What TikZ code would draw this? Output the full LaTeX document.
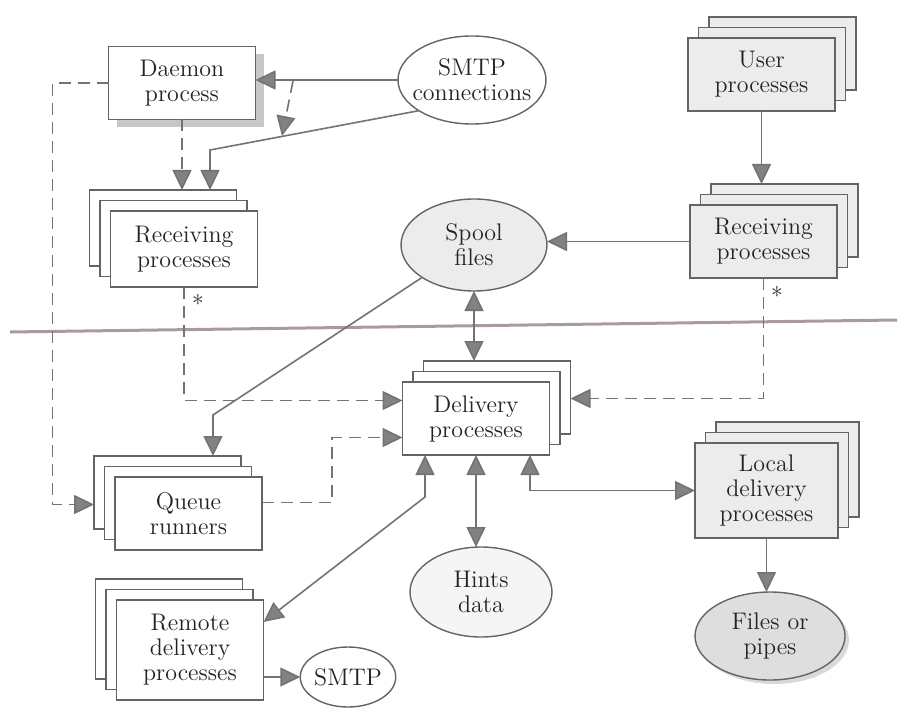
\documentclass[tikz,border=0pt]{standalone}
\usetikzlibrary{calc}
\usetikzlibrary{positioning}
\usetikzlibrary{arrows.meta}
\usetikzlibrary{shapes.geometric}
\usetikzlibrary{shadows}
\definecolor{boxline}{RGB}{100,100,100}
\definecolor{linec}{RGB}{115,115,115}
\definecolor{headc}{RGB}{130,130,130}
\definecolor{txt}{RGB}{35,35,35}
\definecolor{paleg}{RGB}{236,236,236}
\definecolor{midg}{RGB}{222,222,222}
\definecolor{rulec}{RGB}{170,155,155}

\begin{document}
\begin{tikzpicture}[x=0.5pt,y=-0.5pt,>={Triangle[length=10pt,width=9.5pt,fill=headc]}]
\tikzstyle{proc}=[rectangle,align=center,draw=boxline,fill=white,line width=0.7pt,inner sep=0pt,outer sep=0pt,minimum width=73.5pt,minimum height=36.5pt,text=txt,font=\rmfamily\fontsize{12}{12.5}\selectfont]
\tikzstyle{stackL}=[proc,copy shadow={shadow xshift=-10.5pt,shadow yshift=10.5pt,draw=boxline,fill=white,line width=0.7pt},copy shadow={shadow xshift=-5.25pt,shadow yshift=5.25pt,draw=boxline,fill=white,line width=0.7pt}]
\tikzstyle{stackR}=[proc,fill=paleg,copy shadow={shadow xshift=10.5pt,shadow yshift=10.5pt,draw=boxline,fill=paleg,line width=0.7pt},copy shadow={shadow xshift=5.25pt,shadow yshift=5.25pt,draw=boxline,fill=paleg,line width=0.7pt}]
\tikzstyle{store}=[ellipse,align=center,draw=boxline,fill=white,line width=0.7pt,inner sep=0pt,outer sep=0pt,text=txt,font=\rmfamily\fontsize{12}{12.5}\selectfont]
\tikzstyle{conn}=[draw=linec,line width=0.8pt]
\tikzstyle{dconn}=[conn,dash pattern=on 6pt off 3.5pt]
\useasboundingbox (0,0) rectangle (908,727);
\draw[rulec,line width=1.5pt] (10,332) -- (897,320);
\node[proc,drop shadow={shadow xshift=4pt,shadow yshift=-4pt,fill=black!22,opacity=1}] at(182,83) (daemon) {Daemon\\process};
\node[store,inner sep=-7pt,minimum width=74pt,minimum height=44pt] at(472,80) (smtpc) {SMTP\\connections};
\node[stackL,minimum height=38pt] at(184,249) (recvL) {Receiving\\processes};
\node[stackR] at(761.5,74.5) (user) {User\\processes};
\node[stackR] at(763.5,241.5) (recvR) {Receiving\\processes};
\node[store,fill=paleg,minimum width=73pt,minimum height=46pt] at(474,245) (spool) {Spool\\files};
\node[stackR,fill=white,copy shadow={shadow xshift=10.5pt,shadow yshift=10.5pt,draw=boxline,fill=white,line width=0.7pt},copy shadow={shadow xshift=5.25pt,shadow yshift=5.25pt,draw=boxline,fill=white,line width=0.7pt}] at(476,418.5) (deliv) {Delivery\\processes};
\node[stackL] at(188.5,513.5) (queue) {Queue\\runners};
\node[stackL,minimum height=50pt] at(190,650) (remote) {Remote\\delivery\\processes};
\node[store,minimum width=45pt,minimum height=30pt] at(348,677) (smtp) {SMTP};
\node[store,fill=black!4,minimum width=71pt,minimum height=45pt] at(481,592) (hints) {Hints\\data};
\node[stackR,minimum width=71.5pt,minimum height=47.5pt] at(766.5,490.5) (local) {Local\\delivery\\processes};
\node[store,fill=midg,drop shadow={shadow xshift=2pt,shadow yshift=-2pt,fill=black!15,opacity=1},minimum width=75pt,minimum height=44pt] at(770,636) (files) {Files or\\pipes};
\node[text=txt,inner sep=0pt,font=\rmfamily\fontsize{12}{12}\selectfont] at(198,303) (astL) {*};
\node[text=txt,inner sep=0pt,font=\rmfamily\fontsize{12}{12}\selectfont] at(777,295) (astR) {*};
\coordinate (tap) at (293,81);
\coordinate (drop) at (282,136);
\draw[conn,->] (smtpc.west) -- (daemon.east |- smtpc.west);
\draw[conn,->] (smtpc.210) -- (210,150) -- ($(recvL.north)+(26,-21)$);
\draw[dconn,->] (daemon.south) -- ($(daemon.south |- recvL.north)+(0,-21)$);
\draw[dconn,->] (tap) -- (drop);
\draw[dconn,->] (daemon.west) -- ++(-56,0) |- ($(queue.west)+(-21,-9)$);
\draw[dconn,->] (recvL.south) |- ($(deliv.west)+(0,-18)$);
\draw[conn,->] (spool.212) -- (213,415) -- ($(queue.north)+(24.5,-21)$);
\draw[dconn,->] ($(queue.east)+(0,-11)$) -- ++(70,0) |- ($(deliv.west)+(0,19)$);
\draw[conn,<->] ($(deliv.south)+(-51,0)$) -- ++(0,42) -- ($(remote.east)+(0,-28)$);
\draw[conn,->] (smtp.west -| remote.east) -- (smtp.west);
\draw[conn,<->] (spool.south) -- ($(spool.south |- deliv.north)+(0,-21)$);
\draw[conn,->] (recvR.west) -- (spool.east |- recvR.west);
\draw[conn,->] (user.south) -- ($(user.south |- recvR.north)+(0,-21)$);
\draw[dconn,->] (recvR.south) |- ($(deliv.east)+(21,-20)$);
\draw[conn,<->] (deliv.south) -- (deliv.south |- hints.north);
\draw[conn,<->] ($(deliv.south)+(54,0)$) |- (local.west);
\draw[conn,->] (local.south) -- (local.south |- files.north);
\end{tikzpicture}
\end{document}
